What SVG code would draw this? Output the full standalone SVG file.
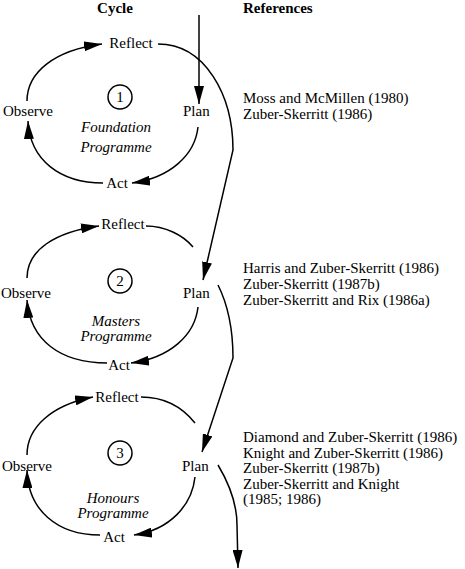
<svg xmlns="http://www.w3.org/2000/svg" width="465" height="569" viewBox="0 0 465 569" font-family="'Liberation Serif', 'DejaVu Serif', serif">
<style>
text{font-family:'Liberation Serif','DejaVu Serif',serif;font-size:15px;fill:#000}
.h{font-weight:bold}
.i{font-style:italic}
.m{text-anchor:middle}
.c{fill:none;stroke:#000;stroke-width:1.5;marker-end:url(#ah)}
.n{fill:none;stroke:#000;stroke-width:1.5}
</style>
<defs>
<marker id="ah" markerUnits="userSpaceOnUse" markerWidth="18" markerHeight="10" refX="18" refY="5" orient="auto">
<path d="M0,0 L18,5 L0,10 z" fill="#000"/>
</marker>
</defs>
<rect width="465" height="569" fill="#fff"/>
<g id="headers">
<text class="h m" x="115" y="13">Cycle</text>
<text class="h" x="243" y="13">References</text>
</g>
<g id="cycle1">
<text class="m" x="131" y="48">Reflect</text>
<text x="3" y="116">Observe</text>
<text x="183" y="116">Plan</text>
<text class="m" x="117" y="188">Act</text>
<circle cx="120" cy="97" r="12" class="n"/>
<text class="m" x="120" y="102">1</text>
<text class="i m" x="116" y="132">Foundation</text>
<text class="i m" x="116" y="152">Programme</text>
</g>
<g id="cycle2">
<text class="m" x="123" y="229">Reflect</text>
<text x="1" y="298">Observe</text>
<text x="183" y="298">Plan</text>
<text class="m" x="119" y="370">Act</text>
<circle cx="120" cy="281" r="12" class="n"/>
<text class="m" x="120" y="286">2</text>
<text class="i m" x="116" y="326">Masters</text>
<text class="i m" x="116" y="341">Programme</text>
</g>
<g id="cycle3">
<text class="m" x="117" y="402">Reflect</text>
<text x="2" y="471">Observe</text>
<text x="182" y="471">Plan</text>
<text class="m" x="114" y="542">Act</text>
<circle cx="120" cy="453" r="12" class="n"/>
<text class="m" x="120" y="458">3</text>
<text class="i m" x="113" y="503">Honours</text>
<text class="i m" x="113" y="518">Programme</text>
</g>
<g id="refs1">
<text x="243" y="103">Moss and McMillen (1980)</text>
<text x="243" y="119">Zuber-Skerritt (1986)</text>
</g>
<g id="refs2">
<text x="243" y="273">Harris and Zuber-Skerritt (1986)</text>
<text x="243" y="289">Zuber-Skerritt (1987b)</text>
<text x="243" y="305">Zuber-Skerritt and Rix (1986a)</text>
</g>
<g id="refs3">
<text x="243" y="442">Diamond and Zuber-Skerritt (1986)</text>
<text x="243" y="457.5">Knight and Zuber-Skerritt (1986)</text>
<text x="243" y="473">Zuber-Skerritt (1987b)</text>
<text x="243" y="488.5">Zuber-Skerritt and Knight</text>
<text x="243" y="504">(1985; 1986)</text>
</g>
<g id="connectors">
<path class="c" d="M199,15 L199,104"/>
<path class="c" d="M27,101 C27,72 55,50 102,44"/>
<path class="c" d="M198,127 C195,155 170,178 132,183"/>
<path class="c" d="M103,183 C60,183 30,160 28,121"/>
<path class="c" d="M158,44 C205,44 233,95 233,150 L203,280"/>
<path class="c" d="M27,278 C27,250 55,232 99,226"/>
<path class="n" d="M146,226 C165,226 183,235 193,247"/>
<path class="c" d="M198,307 C195,335 170,358 131,363"/>
<path class="c" d="M107,363 C60,363 30,340 27,300"/>
<path class="c" d="M218,285 C228,305 233,330 233,358 L202,452"/>
<path class="c" d="M27,455 C27,427 52,405 93,397"/>
<path class="n" d="M141,397 C165,397 183,408 195,423"/>
<path class="c" d="M195,477 C192,505 170,530 134,535"/>
<path class="c" d="M100,535 C57,535 28,510 27,470"/>
<path class="c" d="M218,465 C230,485 237,505 237,525 L238,568"/>
</g>
</svg>
